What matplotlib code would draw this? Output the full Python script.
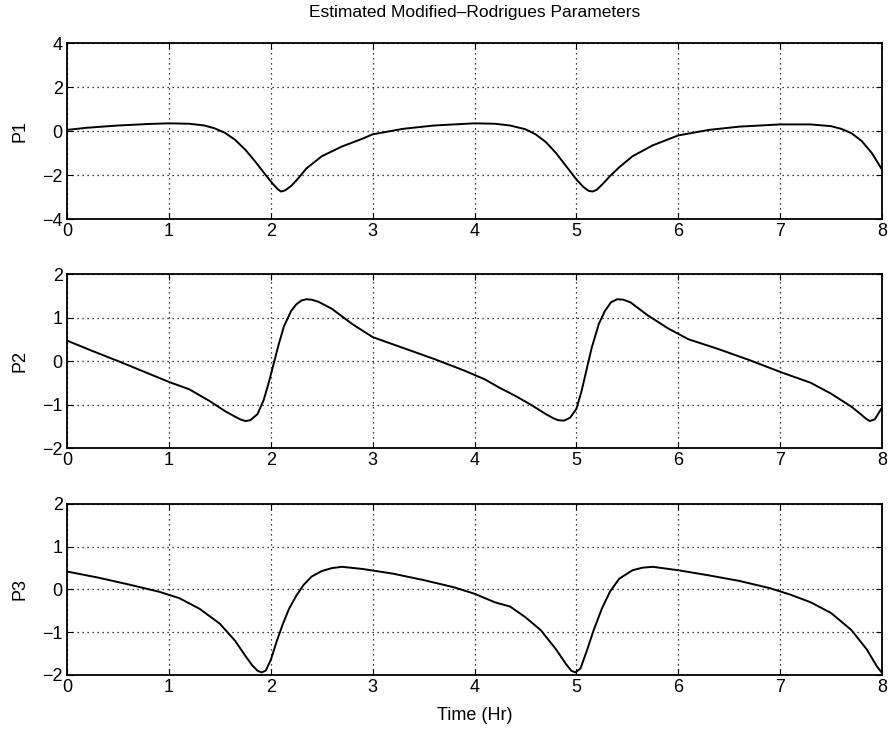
import numpy as np
import matplotlib.pyplot as plt

plt.rcParams['font.family'] = ['Liberation Sans', 'DejaVu Sans']

# estimated MRP components vs time (hr)
t1 = [0.0, 0.2, 0.5, 0.8, 1.0, 1.2, 1.35, 1.45, 1.55, 1.65, 1.75, 1.85, 1.95, 2.02, 2.07, 2.1, 2.14, 2.2,
      2.27, 2.35, 2.5, 2.7, 2.9, 3.0, 3.3, 3.6, 4.0, 4.2, 4.35, 4.5, 4.6, 4.7, 4.8, 4.9, 5.0,
      5.07, 5.12, 5.16, 5.2, 5.26, 5.33, 5.42, 5.55, 5.75, 6.0, 6.3, 6.6, 7.0, 7.3, 7.5, 7.6, 7.7, 7.8, 7.9, 8.0]
p1 = [0.05, 0.15, 0.25, 0.32, 0.35, 0.33, 0.25, 0.12, -0.08, -0.4, -0.85, -1.4, -2.0, -2.4, -2.65, -2.75, -2.7, -2.5,
      -2.15, -1.7, -1.15, -0.7, -0.35, -0.15, 0.1, 0.25, 0.35, 0.33, 0.25, 0.08, -0.15, -0.5, -1.0, -1.6, -2.2,
      -2.55, -2.72, -2.75, -2.67, -2.4, -2.05, -1.65, -1.15, -0.65, -0.2, 0.05, 0.2, 0.3, 0.3, 0.22, 0.1, -0.1, -0.45, -1.0, -1.75]

t2 = [0.0, 0.25, 0.5, 0.75, 1.0, 1.2, 1.4, 1.55, 1.65, 1.7, 1.75, 1.8, 1.87, 1.93, 1.98, 2.03, 2.08, 2.13,
      2.2, 2.25, 2.3, 2.35, 2.4, 2.47, 2.6, 2.8, 3.0, 3.3, 3.6, 3.9, 4.1, 4.25, 4.4, 4.55, 4.7, 4.77, 4.82, 4.88, 4.94,
      5.0, 5.05, 5.1, 5.15, 5.22, 5.28, 5.34, 5.4, 5.46, 5.53, 5.7, 5.9, 6.1, 6.4, 6.7, 7.0, 7.3, 7.5, 7.7, 7.78, 7.84,
      7.88, 7.93, 8.0]
p2 = [0.47, 0.23, 0.0, -0.24, -0.48, -0.65, -0.92, -1.15, -1.28, -1.34, -1.38, -1.36, -1.22, -0.9, -0.5, -0.05, 0.4, 0.8,
      1.15, 1.3, 1.39, 1.42, 1.41, 1.36, 1.2, 0.85, 0.55, 0.3, 0.05, -0.22, -0.42, -0.62, -0.8, -1.0, -1.22, -1.31, -1.36,
      -1.37, -1.3, -1.1, -0.7, -0.2, 0.3, 0.85, 1.15, 1.35, 1.42, 1.41, 1.35, 1.05, 0.75, 0.5, 0.27, 0.02, -0.25, -0.5,
      -0.75, -1.05, -1.2, -1.32, -1.38, -1.34, -1.07]

t3 = [0.0, 0.3, 0.6, 0.9, 1.1, 1.3, 1.5, 1.65, 1.75, 1.82, 1.87, 1.91, 1.95, 2.0, 2.06, 2.12, 2.18, 2.25, 2.32,
      2.4, 2.5, 2.6, 2.7, 2.9, 3.2, 3.5, 3.8, 4.0, 4.2, 4.35, 4.5, 4.65, 4.8, 4.9, 4.95, 4.99, 5.04, 5.1, 5.17,
      5.25, 5.33, 5.42, 5.55, 5.65, 5.75, 6.0, 6.3, 6.6, 6.9, 7.1, 7.3, 7.5, 7.7, 7.85, 7.95, 8.0]
p3 = [0.42, 0.28, 0.12, -0.05, -0.2, -0.45, -0.8, -1.2, -1.55, -1.78, -1.9, -1.94, -1.9, -1.65, -1.2, -0.8, -0.45, -0.15,
      0.1, 0.3, 0.43, 0.5, 0.53, 0.48, 0.37, 0.22, 0.05, -0.1, -0.3, -0.4, -0.65, -0.95, -1.4, -1.75, -1.9, -1.94, -1.85,
      -1.45, -0.95, -0.45, -0.05, 0.25, 0.45, 0.51, 0.53, 0.45, 0.33, 0.2, 0.03, -0.12, -0.3, -0.55, -0.95, -1.4, -1.8, -1.95]

series = [(t1, p1, 'P1', [-4, -2, 0, 2, 4]),
          (t2, p2, 'P2', [-2, -1, 0, 1, 2]),
          (t3, p3, 'P3', [-2, -1, 0, 1, 2])]

fig = plt.figure(figsize=(8.91, 7.34), dpi=100)
boxes = [[0.0752, 0.7016, 0.9147, 0.2398],
         [0.0752, 0.3896, 0.9147, 0.2371],
         [0.0752, 0.0804, 0.9147, 0.2330]]

axes = []
for box, (t, p, name, yt) in zip(boxes, series):
    ax = fig.add_axes(box)
    ax.plot(t, p, color='black', lw=1.4)
    ax.set_xlim(0, 8)
    ax.set_ylim(yt[0], yt[-1])
    ax.set_xticks(range(9))
    ax.set_yticks(yt)
    ax.set_ylabel(name, fontsize=13, labelpad=10)
    ax.grid(True, color='black', linestyle=(0, (1, 3)), lw=0.9)
    ax.tick_params(direction='in', length=4, labelsize=13, top=True, right=True, pad=3)
    for s in ax.spines.values():
        s.set_linewidth(1.3)
    axes.append(ax)

axes[0].set_title('Estimated Modified\u2013Rodrigues Parameters', fontsize=12.5, pad=19)
axes[2].set_xlabel('Time (Hr)', fontsize=13, labelpad=8)

fig.savefig('out.png', dpi=100)
